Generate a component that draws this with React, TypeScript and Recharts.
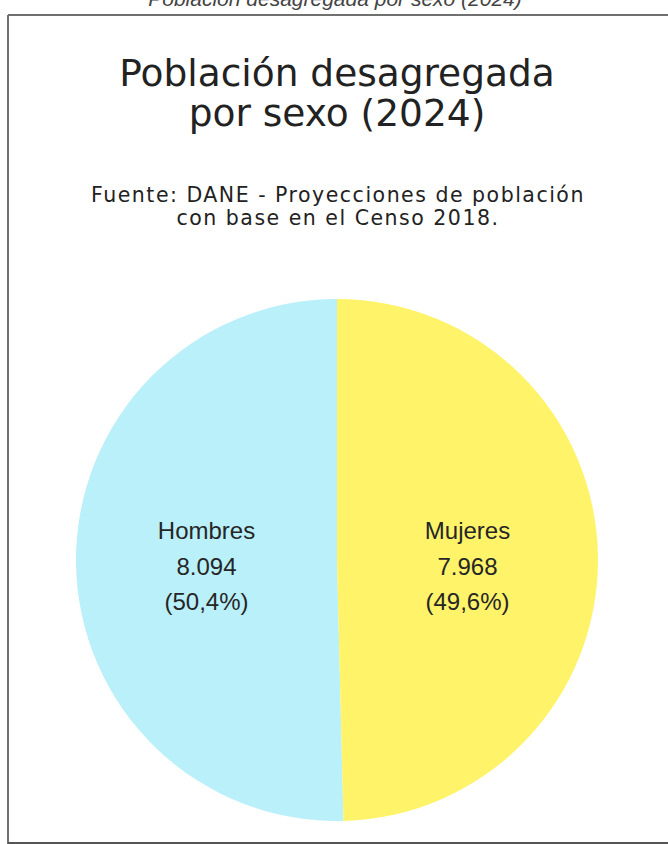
import React from 'react';
import { PieChart, Pie, Cell } from 'recharts';

const categories = ['Hombres', 'Mujeres'];
const values = [8094, 7968];
const colors = ['#BAF0FA', '#FFF36A'];
const titleLines = ['Población desagregada', 'por sexo (2024)'];
const sourceLines = ['Fuente: DANE - Proyecciones de población', 'con base en el Censo 2018.'];
const headerText = 'Población desagregada por sexo (2024)';

const total = values.reduce((a, b) => a + b, 0);
const data = categories.map((name, i) => ({ name, value: values[i] }));

const fmtThousands = (v: number) => {
  const th = Math.floor(v / 1000);
  const rest = String(v % 1000).padStart(3, '0');
  return th > 0 ? `${th}.${rest}` : String(v);
};
const fmtPct = (v: number) => `(${((v / total) * 100).toFixed(1).replace('.', ',')}%)`;

const RADIAN = Math.PI / 180;
const renderLabel = (props: any) => {
  const { cx, cy, midAngle, outerRadius, payload, value } = props;
  const r = outerRadius * 0.5;
  const x = cx + r * Math.cos(-midAngle * RADIAN);
  const y = cy;
  const name = payload?.name ?? props.name;
  return (
    <text
      x={x}
      y={y}
      textAnchor="middle"
      fill="#262626"
      fontFamily="'Liberation Sans', Arial, sans-serif"
      fontSize={24}
    >
      <tspan x={x} y={y - 21}>{name}</tspan>
      <tspan x={x} y={y + 15}>{fmtThousands(value)}</tspan>
      <tspan x={x} y={y + 50}>{fmtPct(value)}</tspan>
    </text>
  );
};

export default function App() {
  return (
    <div style={{ position: 'absolute', left: 0, top: 0, width: 668, height: 844, background: '#fff', overflow: 'hidden' }}>
      <svg width={668} height={844} style={{ position: 'absolute', left: 0, top: 0 }}>
        <text
          x={335}
          y={6}
          textAnchor="middle"
          fontFamily="'Liberation Sans', Arial, sans-serif"
          fontStyle="italic"
          fontSize={21}
          fill="#444"
        >
          {headerText}
        </text>
        <line x1={8} y1={15} x2={668} y2={15} stroke="#707070" strokeWidth={2} />
        <line x1={8} y1={15} x2={8} y2={844} stroke="#707070" strokeWidth={2} />
        <line x1={8} y1={843} x2={668} y2={843} stroke="#555" strokeWidth={2} />
        <text
          x={337}
          textAnchor="middle"
          fontFamily="'DejaVu Sans', Verdana, sans-serif"
          fontSize={37.5}
          fill="#222"
        >
          <tspan x={337} y={86}>{titleLines[0]}</tspan>
          <tspan x={337} y={126}>{titleLines[1]}</tspan>
        </text>
        <text
          x={338}
          textAnchor="middle"
          fontFamily="'DejaVu Sans', Verdana, sans-serif"
          fontSize={20.5}
          letterSpacing={1.5}
          fill="#222"
        >
          <tspan x={338} y={202}>{sourceLines[0]}</tspan>
          <tspan x={338} y={225}>{sourceLines[1]}</tspan>
        </text>
      </svg>
      <div style={{ position: 'absolute', left: 0, top: 0 }}>
        <PieChart width={668} height={844} margin={{ top: 0, right: 0, bottom: 0, left: 0 }}>
          <Pie
            data={data}
            dataKey="value"
            nameKey="name"
            cx={337}
            cy={560}
            outerRadius={261}
            startAngle={90}
            endAngle={450}
            stroke="none"
            label={renderLabel}
            labelLine={false}
            isAnimationActive={false}
          >
            {data.map((d, i) => (
              <Cell key={d.name} fill={colors[i]} />
            ))}
          </Pie>
        </PieChart>
      </div>
    </div>
  );
}
